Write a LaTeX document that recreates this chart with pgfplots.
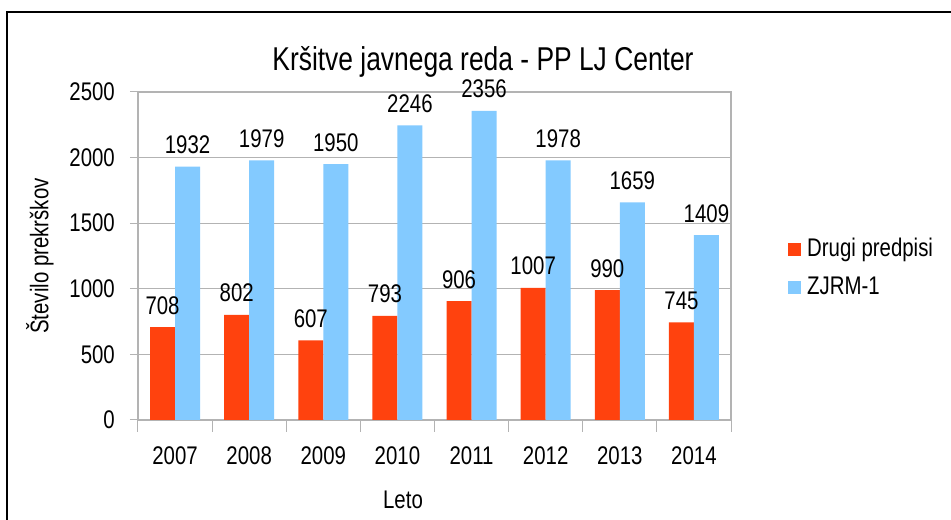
\documentclass[border=0pt]{standalone}
\usepackage{pgfplots}
\pgfplotsset{compat=1.18}
\usepackage{fontspec}
\setmainfont{Liberation Sans}[FakeStretch=0.8]
\definecolor{cred}{HTML}{FF420E}
\definecolor{cblue}{HTML}{83CAFF}
\definecolor{cgrid}{HTML}{B3B3B3}
\begin{document}
\begin{tikzpicture}[x=1bp,y=1bp]
\begin{axis}[
  name=ax,
  scale only axis, width=593bp, height=328bp,
  font=\fontsize{25.5bp}{30bp}\selectfont,
  /pgf/number format/assume math mode=true,
  /pgf/number format/1000 sep={},
  ymin=0, ymax=2500, ytick={0,500,...,2500},
  xmin=-0.5, xmax=7.5,
  xtick={0,...,7},
  xticklabels={2007,2008,2009,2010,2011,2012,2013,2014},
  minor xtick={-0.5,0.5,...,7.5},
  xtick pos=bottom, ytick pos=left,
  tick align=outside,
  major tick length=8bp, minor tick length=12bp,
  xtick style={draw=none},
  minor x tick style={draw=cgrid, line width=1bp},
  ytick style={draw=cgrid, line width=1bp},
  axis line style={draw=cgrid, line width=1.2bp},
  ymajorgrids, grid style={draw=cgrid, line width=1bp},
  extra y ticks={0}, extra y tick labels={},
  extra y tick style={grid style={draw=cgrid, line width=2.5bp}},
  yticklabel style={inner sep=0pt, xshift=-15bp},
  xticklabel style={inner sep=0pt, yshift=-18bp},
  ylabel={Število prekrškov},
  xlabel={Leto},
  every axis y label/.style={at={(axis description cs:0,0.5)}, rotate=90, anchor=center, yshift=98bp},
  every axis x label/.style={at={(axis description cs:0,0)}, anchor=center, xshift=265bp, yshift=-80bp},
  ybar=0pt, bar width=25bp,
  nodes near coords,
  every node near coord/.append style={anchor=base, yshift=13bp, inner sep=0pt, font=\fontsize{25.5bp}{30bp}\selectfont, black},
  legend style={at={(axis description cs:1.0961,0.463)}, anchor=west, draw=none, fill=none,
    inner sep=0pt, row sep=14bp, column sep=6bp,
    nodes={inner sep=0pt, text height=19bp, text depth=5bp, anchor=west},
    font=\fontsize{25.5bp}{30bp}\selectfont},
  legend cell align=left,
  legend image code/.code={\fill[#1] (0bp,-6.5bp) rectangle (13bp,6.5bp);},
]
\addplot[fill=cred, draw=none] coordinates {(0,708) (1,802) (2,607) (3,793) (4,906) (5,1007) (6,990) (7,745)};
\addplot[fill=cblue, draw=none] coordinates {(0,1932) (1,1979) (2,1950) (3,2246) (4,2356) (5,1978) (6,1659) (7,1409)};
\legend{Drugi predpisi, ZJRM-1}
\end{axis}
\pgfresetboundingbox
\begin{scope}[shift={(ax.south west)}, shift={(-138,-100)}]
\path[use as bounding box] (0,0) rectangle (951,520);
\begin{scope}
\clip (0,0) rectangle (951,520);
\draw[line width=1.5bp, black] (7,-20) -- (7,508) -- (970,508);
\end{scope}
\node[font=\fontsize{33bp}{38bp}\selectfont] at (483,458) {Kršitve javnega reda - PP LJ Center};
\end{scope}
\end{tikzpicture}
\end{document}
